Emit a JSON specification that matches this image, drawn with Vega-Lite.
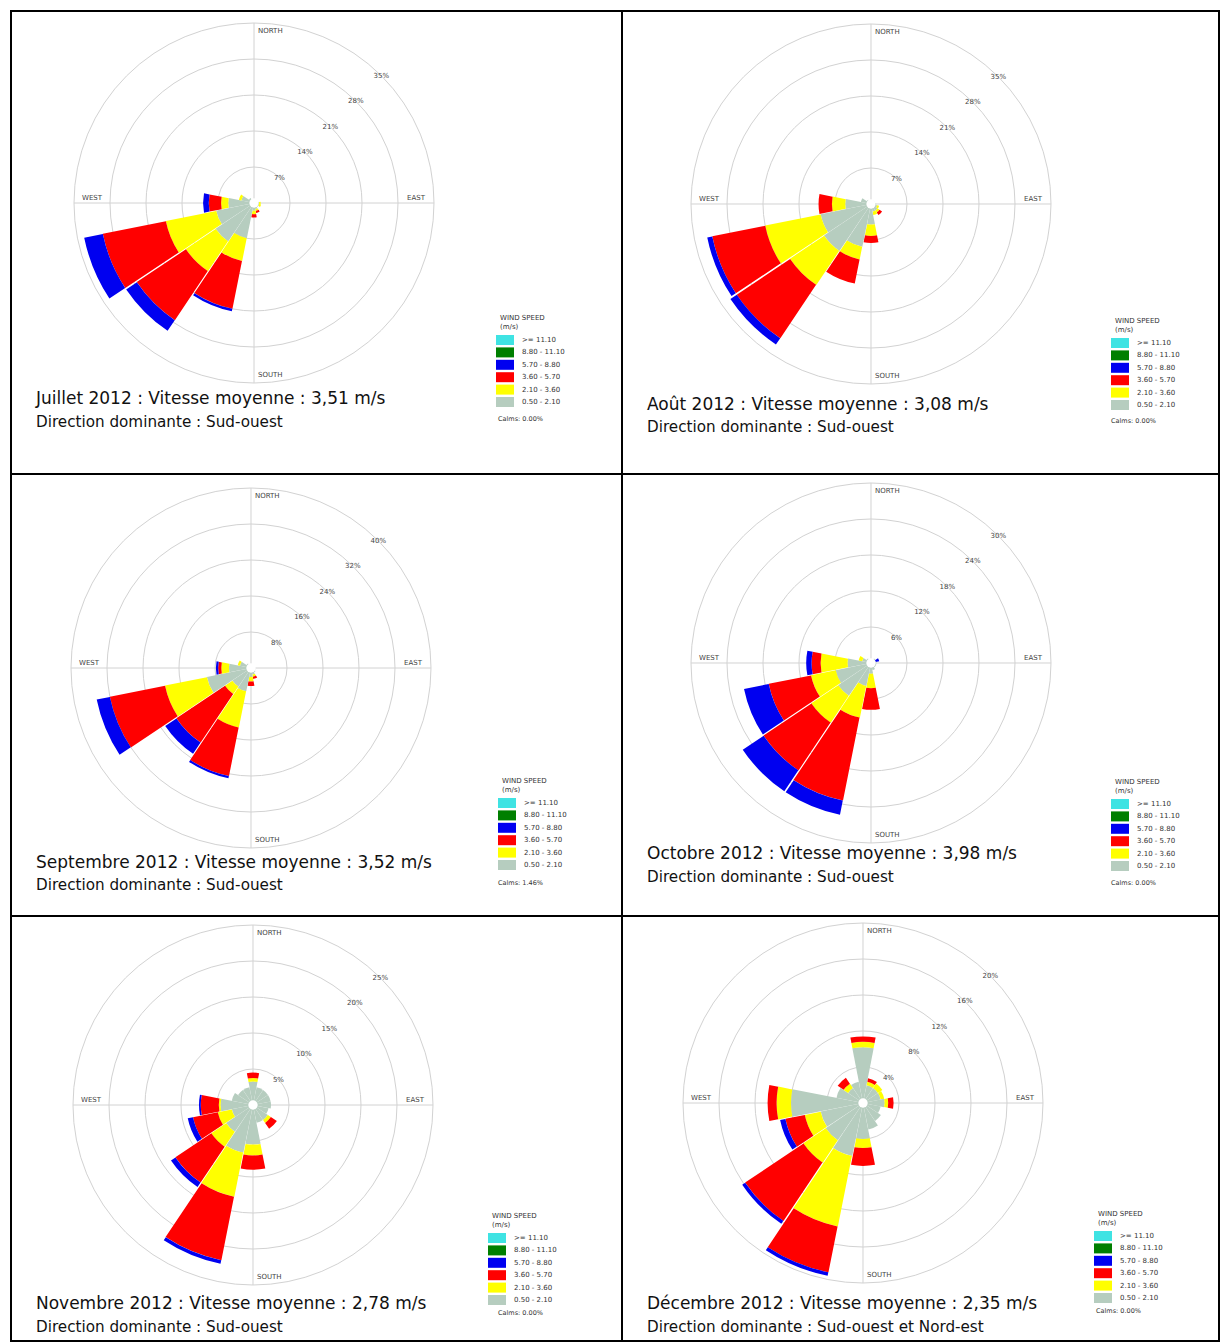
{
"$schema":"https://vega.github.io/schema/vega-lite/v6.json",
"padding":{"left":10,"top":10,"right":0,"bottom":0},
"background":"white",
"config":{"view":{"stroke":"#000","strokeWidth":2},"font":"DejaVu Sans",
 "legend":{"titleFontSize":7,"titleFontWeight":"normal","titleColor":"#333","labelFontSize":7,"labelColor":"#333","symbolType":"M-1.8,-1H1.8V1H-1.8Z","symbolSize":100,"symbolStrokeWidth":0,"rowPadding":2.4,"labelOffset":12,"titlePadding":5,"titleLineHeight":9}},
"columns":2,
"spacing":0,
"bounds":"flush",
"resolve":{"scale":{"color":"independent"}},
"datasets":{
"dl":[{"d":"N","t":"NORTH","k":"v"},{"d":"S","t":"SOUTH","k":"v"},{"d":"W","t":"WEST","k":"h"},{"d":"E","t":"EAST","k":"h"}],
"rings":[
{"m":1,"r":7,"lab":"7%"},{"m":1,"r":14,"lab":"14%"},{"m":1,"r":21,"lab":"21%"},{"m":1,"r":28,"lab":"28%"},{"m":1,"r":35,"lab":"35%"},
{"m":2,"r":7,"lab":"7%"},{"m":2,"r":14,"lab":"14%"},{"m":2,"r":21,"lab":"21%"},{"m":2,"r":28,"lab":"28%"},{"m":2,"r":35,"lab":"35%"},
{"m":3,"r":8,"lab":"8%"},{"m":3,"r":16,"lab":"16%"},{"m":3,"r":24,"lab":"24%"},{"m":3,"r":32,"lab":"32%"},{"m":3,"r":40,"lab":"40%"},
{"m":4,"r":6,"lab":"6%"},{"m":4,"r":12,"lab":"12%"},{"m":4,"r":18,"lab":"18%"},{"m":4,"r":24,"lab":"24%"},{"m":4,"r":30,"lab":"30%"},
{"m":5,"r":5,"lab":"5%"},{"m":5,"r":10,"lab":"10%"},{"m":5,"r":15,"lab":"15%"},{"m":5,"r":20,"lab":"20%"},{"m":5,"r":25,"lab":"25%"},
{"m":6,"r":4,"lab":"4%"},{"m":6,"r":8,"lab":"8%"},{"m":6,"r":12,"lab":"12%"},{"m":6,"r":16,"lab":"16%"},{"m":6,"r":20,"lab":"20%"}],
"txt":[
{"m":1,"main":"Juillet 2012 : Vitesse moyenne : 3,51 m/s","sub":"Direction dominante : Sud-ouest","calm":"Calms: 0.00%"},
{"m":2,"main":"Août 2012 : Vitesse moyenne : 3,08 m/s","sub":"Direction dominante : Sud-ouest","calm":"Calms: 0.00%"},
{"m":3,"main":"Septembre 2012 : Vitesse moyenne : 3,52 m/s","sub":"Direction dominante : Sud-ouest","calm":"Calms: 1.46%"},
{"m":4,"main":"Octobre 2012 : Vitesse moyenne : 3,98 m/s","sub":"Direction dominante : Sud-ouest","calm":"Calms: 0.00%"},
{"m":5,"main":"Novembre 2012 : Vitesse moyenne : 2,78 m/s","sub":"Direction dominante : Sud-ouest","calm":"Calms: 0.00%"},
{"m":6,"main":"Décembre 2012 : Vitesse moyenne : 2,35 m/s","sub":"Direction dominante : Sud-ouest et Nord-est","calm":"Calms: 0.00%"}],
"w":[
{"m":1,"d":"N","ws":"0.50 - 2.10","r0":0,"r1":0.8},
{"m":1,"d":"NNE","ws":"0.50 - 2.10","r0":0,"r1":0.5},
{"m":1,"d":"NE","ws":"0.50 - 2.10","r0":0,"r1":0.5},
{"m":1,"d":"ENE","ws":"0.50 - 2.10","r0":0,"r1":0.6},
{"m":1,"d":"E","ws":"0.50 - 2.10","r0":0,"r1":1.0},
{"m":1,"d":"E","ws":"2.10 - 3.60","r0":1.0,"r1":1.3},
{"m":1,"d":"ESE","ws":"0.50 - 2.10","r0":0,"r1":1.0},
{"m":1,"d":"ESE","ws":"2.10 - 3.60","r0":1.0,"r1":1.4},
{"m":1,"d":"SE","ws":"0.50 - 2.10","r0":0,"r1":1.0},
{"m":1,"d":"SSE","ws":"0.50 - 2.10","r0":0,"r1":1.2},
{"m":1,"d":"SSE","ws":"2.10 - 3.60","r0":1.2,"r1":1.6},
{"m":1,"d":"SSE","ws":"3.60 - 5.70","r0":1.6,"r1":2.0},
{"m":1,"d":"S","ws":"0.50 - 2.10","r0":0,"r1":1.5},
{"m":1,"d":"S","ws":"2.10 - 3.60","r0":1.5,"r1":2.2},
{"m":1,"d":"S","ws":"3.60 - 5.70","r0":2.2,"r1":2.8},
{"m":1,"d":"SSW","ws":"0.50 - 2.10","r0":0,"r1":7},
{"m":1,"d":"SSW","ws":"2.10 - 3.60","r0":7,"r1":11.5},
{"m":1,"d":"SSW","ws":"3.60 - 5.70","r0":11.5,"r1":21},
{"m":1,"d":"SSW","ws":"5.70 - 8.80","r0":21,"r1":21.5},
{"m":1,"d":"SW","ws":"0.50 - 2.10","r0":0,"r1":9},
{"m":1,"d":"SW","ws":"2.10 - 3.60","r0":9,"r1":16},
{"m":1,"d":"SW","ws":"3.60 - 5.70","r0":16,"r1":27.5},
{"m":1,"d":"SW","ws":"5.70 - 8.80","r0":27.5,"r1":30},
{"m":1,"d":"WSW","ws":"0.50 - 2.10","r0":0,"r1":7.5},
{"m":1,"d":"WSW","ws":"2.10 - 3.60","r0":7.5,"r1":17.5},
{"m":1,"d":"WSW","ws":"3.60 - 5.70","r0":17.5,"r1":30},
{"m":1,"d":"WSW","ws":"5.70 - 8.80","r0":30,"r1":33.7},
{"m":1,"d":"W","ws":"0.50 - 2.10","r0":0,"r1":5},
{"m":1,"d":"W","ws":"2.10 - 3.60","r0":5,"r1":6.4},
{"m":1,"d":"W","ws":"3.60 - 5.70","r0":6.4,"r1":8.8},
{"m":1,"d":"W","ws":"5.70 - 8.80","r0":8.8,"r1":9.9},
{"m":1,"d":"WNW","ws":"0.50 - 2.10","r0":0,"r1":2.5},
{"m":1,"d":"WNW","ws":"2.10 - 3.60","r0":2.5,"r1":3},
{"m":1,"d":"NW","ws":"0.50 - 2.10","r0":0,"r1":1.2},
{"m":1,"d":"NNW","ws":"0.50 - 2.10","r0":0,"r1":0.8},

{"m":2,"d":"N","ws":"0.50 - 2.10","r0":0,"r1":0.6},
{"m":2,"d":"NNE","ws":"0.50 - 2.10","r0":0,"r1":0.6},
{"m":2,"d":"NE","ws":"0.50 - 2.10","r0":0,"r1":0.8},
{"m":2,"d":"ENE","ws":"0.50 - 2.10","r0":0,"r1":0.8},
{"m":2,"d":"E","ws":"0.50 - 2.10","r0":0,"r1":1.0},
{"m":2,"d":"ESE","ws":"0.50 - 2.10","r0":0,"r1":1.2},
{"m":2,"d":"ESE","ws":"2.10 - 3.60","r0":1.2,"r1":1.6},
{"m":2,"d":"SE","ws":"0.50 - 2.10","r0":0,"r1":1.5},
{"m":2,"d":"SE","ws":"2.10 - 3.60","r0":1.5,"r1":2.0},
{"m":2,"d":"SE","ws":"3.60 - 5.70","r0":2.0,"r1":2.6},
{"m":2,"d":"SSE","ws":"0.50 - 2.10","r0":0,"r1":1.5},
{"m":2,"d":"SSE","ws":"2.10 - 3.60","r0":1.5,"r1":2.2},
{"m":2,"d":"S","ws":"0.50 - 2.10","r0":0,"r1":4},
{"m":2,"d":"S","ws":"2.10 - 3.60","r0":4,"r1":6.2},
{"m":2,"d":"S","ws":"3.60 - 5.70","r0":6.2,"r1":7.6},
{"m":2,"d":"SSW","ws":"0.50 - 2.10","r0":0,"r1":8.5},
{"m":2,"d":"SSW","ws":"2.10 - 3.60","r0":8.5,"r1":11},
{"m":2,"d":"SSW","ws":"3.60 - 5.70","r0":11,"r1":15.8},
{"m":2,"d":"SW","ws":"0.50 - 2.10","r0":0,"r1":11},
{"m":2,"d":"SW","ws":"2.10 - 3.60","r0":11,"r1":19},
{"m":2,"d":"SW","ws":"3.60 - 5.70","r0":19,"r1":31.5},
{"m":2,"d":"SW","ws":"5.70 - 8.80","r0":31.5,"r1":33},
{"m":2,"d":"WSW","ws":"0.50 - 2.10","r0":0,"r1":10},
{"m":2,"d":"WSW","ws":"2.10 - 3.60","r0":10,"r1":21},
{"m":2,"d":"WSW","ws":"3.60 - 5.70","r0":21,"r1":31.5},
{"m":2,"d":"WSW","ws":"5.70 - 8.80","r0":31.5,"r1":32.5},
{"m":2,"d":"W","ws":"0.50 - 2.10","r0":0,"r1":5},
{"m":2,"d":"W","ws":"2.10 - 3.60","r0":5,"r1":7.6},
{"m":2,"d":"W","ws":"3.60 - 5.70","r0":7.6,"r1":10.2},
{"m":2,"d":"WNW","ws":"0.50 - 2.10","r0":0,"r1":2},
{"m":2,"d":"NW","ws":"0.50 - 2.10","r0":0,"r1":1},
{"m":2,"d":"NNW","ws":"0.50 - 2.10","r0":0,"r1":0.6},

{"m":3,"d":"N","ws":"0.50 - 2.10","r0":0,"r1":0.6},
{"m":3,"d":"NNE","ws":"0.50 - 2.10","r0":0,"r1":0.5},
{"m":3,"d":"NE","ws":"0.50 - 2.10","r0":0,"r1":0.5},
{"m":3,"d":"ENE","ws":"0.50 - 2.10","r0":0,"r1":0.6},
{"m":3,"d":"E","ws":"0.50 - 2.10","r0":0,"r1":0.8},
{"m":3,"d":"ESE","ws":"0.50 - 2.10","r0":0,"r1":1.0},
{"m":3,"d":"SE","ws":"0.50 - 2.10","r0":0,"r1":1.2},
{"m":3,"d":"SSE","ws":"0.50 - 2.10","r0":0,"r1":1.5},
{"m":3,"d":"SSE","ws":"2.10 - 3.60","r0":1.5,"r1":2.0},
{"m":3,"d":"SSE","ws":"3.60 - 5.70","r0":2.0,"r1":2.5},
{"m":3,"d":"S","ws":"0.50 - 2.10","r0":0,"r1":2},
{"m":3,"d":"S","ws":"2.10 - 3.60","r0":2,"r1":3},
{"m":3,"d":"S","ws":"3.60 - 5.70","r0":3,"r1":4},
{"m":3,"d":"SSW","ws":"0.50 - 2.10","r0":0,"r1":5.3},
{"m":3,"d":"SSW","ws":"2.10 - 3.60","r0":5.3,"r1":13.5},
{"m":3,"d":"SSW","ws":"3.60 - 5.70","r0":13.5,"r1":24.5},
{"m":3,"d":"SSW","ws":"5.70 - 8.80","r0":24.5,"r1":25},
{"m":3,"d":"SW","ws":"0.50 - 2.10","r0":0,"r1":5},
{"m":3,"d":"SW","ws":"2.10 - 3.60","r0":5,"r1":7},
{"m":3,"d":"SW","ws":"3.60 - 5.70","r0":7,"r1":20},
{"m":3,"d":"SW","ws":"5.70 - 8.80","r0":20,"r1":23},
{"m":3,"d":"WSW","ws":"0.50 - 2.10","r0":0,"r1":10},
{"m":3,"d":"WSW","ws":"2.10 - 3.60","r0":10,"r1":19.5},
{"m":3,"d":"WSW","ws":"3.60 - 5.70","r0":19.5,"r1":32},
{"m":3,"d":"WSW","ws":"5.70 - 8.80","r0":32,"r1":35},
{"m":3,"d":"W","ws":"0.50 - 2.10","r0":0,"r1":4.9},
{"m":3,"d":"W","ws":"2.10 - 3.60","r0":4.9,"r1":6.6},
{"m":3,"d":"W","ws":"3.60 - 5.70","r0":6.6,"r1":7.3},
{"m":3,"d":"W","ws":"5.70 - 8.80","r0":7.3,"r1":7.8},
{"m":3,"d":"WNW","ws":"0.50 - 2.10","r0":0,"r1":2.5},
{"m":3,"d":"WNW","ws":"2.10 - 3.60","r0":2.5,"r1":3},
{"m":3,"d":"NW","ws":"0.50 - 2.10","r0":0,"r1":1.2},
{"m":3,"d":"NNW","ws":"0.50 - 2.10","r0":0,"r1":0.8},

{"m":4,"d":"N","ws":"0.50 - 2.10","r0":0,"r1":0.6},
{"m":4,"d":"NNE","ws":"0.50 - 2.10","r0":0,"r1":0.6},
{"m":4,"d":"NE","ws":"0.50 - 2.10","r0":0,"r1":0.9},
{"m":4,"d":"ENE","ws":"0.50 - 2.10","r0":0,"r1":0.8},
{"m":4,"d":"ENE","ws":"5.70 - 8.80","r0":0.8,"r1":1.4},
{"m":4,"d":"E","ws":"0.50 - 2.10","r0":0,"r1":0.9},
{"m":4,"d":"ESE","ws":"0.50 - 2.10","r0":0,"r1":0.9},
{"m":4,"d":"SE","ws":"0.50 - 2.10","r0":0,"r1":0.9},
{"m":4,"d":"SSE","ws":"0.50 - 2.10","r0":0,"r1":1.2},
{"m":4,"d":"S","ws":"0.50 - 2.10","r0":0,"r1":1.8},
{"m":4,"d":"S","ws":"2.10 - 3.60","r0":1.8,"r1":4.2},
{"m":4,"d":"S","ws":"3.60 - 5.70","r0":4.2,"r1":7.8},
{"m":4,"d":"SSW","ws":"0.50 - 2.10","r0":0,"r1":3.9},
{"m":4,"d":"SSW","ws":"2.10 - 3.60","r0":3.9,"r1":9.3},
{"m":4,"d":"SSW","ws":"3.60 - 5.70","r0":9.3,"r1":23.4},
{"m":4,"d":"SSW","ws":"5.70 - 8.80","r0":23.4,"r1":25.8},
{"m":4,"d":"SW","ws":"0.50 - 2.10","r0":0,"r1":6.6},
{"m":4,"d":"SW","ws":"2.10 - 3.60","r0":6.6,"r1":12},
{"m":4,"d":"SW","ws":"3.60 - 5.70","r0":12,"r1":21.6},
{"m":4,"d":"SW","ws":"5.70 - 8.80","r0":21.6,"r1":25.8},
{"m":4,"d":"WSW","ws":"0.50 - 2.10","r0":0,"r1":6},
{"m":4,"d":"WSW","ws":"2.10 - 3.60","r0":6,"r1":10.2},
{"m":4,"d":"WSW","ws":"3.60 - 5.70","r0":10.2,"r1":17.4},
{"m":4,"d":"WSW","ws":"5.70 - 8.80","r0":17.4,"r1":21.6},
{"m":4,"d":"W","ws":"0.50 - 2.10","r0":0,"r1":3.9},
{"m":4,"d":"W","ws":"2.10 - 3.60","r0":3.9,"r1":8.4},
{"m":4,"d":"W","ws":"3.60 - 5.70","r0":8.4,"r1":9.9},
{"m":4,"d":"W","ws":"5.70 - 8.80","r0":9.9,"r1":10.8},
{"m":4,"d":"WNW","ws":"0.50 - 2.10","r0":0,"r1":1.5},
{"m":4,"d":"WNW","ws":"2.10 - 3.60","r0":1.5,"r1":2.1},
{"m":4,"d":"NW","ws":"0.50 - 2.10","r0":0,"r1":0.9},
{"m":4,"d":"NNW","ws":"0.50 - 2.10","r0":0,"r1":0.6},

{"m":5,"d":"N","ws":"0.50 - 2.10","r0":0,"r1":3.25},
{"m":5,"d":"N","ws":"2.10 - 3.60","r0":3.25,"r1":3.75},
{"m":5,"d":"N","ws":"3.60 - 5.70","r0":3.75,"r1":4.5},
{"m":5,"d":"NNE","ws":"0.50 - 2.10","r0":0,"r1":2.5},
{"m":5,"d":"NE","ws":"0.50 - 2.10","r0":0,"r1":2.5},
{"m":5,"d":"ENE","ws":"0.50 - 2.10","r0":0,"r1":2.5},
{"m":5,"d":"E","ws":"0.50 - 2.10","r0":0,"r1":2.5},
{"m":5,"d":"ESE","ws":"0.50 - 2.10","r0":0,"r1":2.2},
{"m":5,"d":"SE","ws":"0.50 - 2.10","r0":0,"r1":2.5},
{"m":5,"d":"SE","ws":"2.10 - 3.60","r0":2.5,"r1":3},
{"m":5,"d":"SE","ws":"3.60 - 5.70","r0":3,"r1":4},
{"m":5,"d":"SSE","ws":"0.50 - 2.10","r0":0,"r1":2.5},
{"m":5,"d":"S","ws":"0.50 - 2.10","r0":0,"r1":5.5},
{"m":5,"d":"S","ws":"2.10 - 3.60","r0":5.5,"r1":7},
{"m":5,"d":"S","ws":"3.60 - 5.70","r0":7,"r1":9},
{"m":5,"d":"SSW","ws":"0.50 - 2.10","r0":0,"r1":6.75},
{"m":5,"d":"SSW","ws":"2.10 - 3.60","r0":6.75,"r1":13},
{"m":5,"d":"SSW","ws":"3.60 - 5.70","r0":13,"r1":22},
{"m":5,"d":"SSW","ws":"5.70 - 8.80","r0":22,"r1":22.5},
{"m":5,"d":"SW","ws":"0.50 - 2.10","r0":0,"r1":4.5},
{"m":5,"d":"SW","ws":"2.10 - 3.60","r0":4.5,"r1":7},
{"m":5,"d":"SW","ws":"3.60 - 5.70","r0":7,"r1":13},
{"m":5,"d":"SW","ws":"5.70 - 8.80","r0":13,"r1":13.75},
{"m":5,"d":"WSW","ws":"0.50 - 2.10","r0":0,"r1":3},
{"m":5,"d":"WSW","ws":"2.10 - 3.60","r0":3,"r1":5},
{"m":5,"d":"WSW","ws":"3.60 - 5.70","r0":5,"r1":8.5},
{"m":5,"d":"WSW","ws":"5.70 - 8.80","r0":8.5,"r1":9.25},
{"m":5,"d":"W","ws":"0.50 - 2.10","r0":0,"r1":4.5},
{"m":5,"d":"W","ws":"2.10 - 3.60","r0":4.5,"r1":4.75},
{"m":5,"d":"W","ws":"3.60 - 5.70","r0":4.75,"r1":7.25},
{"m":5,"d":"W","ws":"5.70 - 8.80","r0":7.25,"r1":7.5},
{"m":5,"d":"WNW","ws":"0.50 - 2.10","r0":0,"r1":3},
{"m":5,"d":"NW","ws":"0.50 - 2.10","r0":0,"r1":2.5},
{"m":5,"d":"NNW","ws":"0.50 - 2.10","r0":0,"r1":2.5},

{"m":6,"d":"N","ws":"0.50 - 2.10","r0":0,"r1":6.2},
{"m":6,"d":"N","ws":"2.10 - 3.60","r0":6.2,"r1":6.8},
{"m":6,"d":"N","ws":"3.60 - 5.70","r0":6.8,"r1":7.4},
{"m":6,"d":"NNE","ws":"0.50 - 2.10","r0":0,"r1":2},
{"m":6,"d":"NNE","ws":"2.10 - 3.60","r0":2,"r1":2.4},
{"m":6,"d":"NNE","ws":"3.60 - 5.70","r0":2.4,"r1":2.8},
{"m":6,"d":"NE","ws":"0.50 - 2.10","r0":0,"r1":2},
{"m":6,"d":"NE","ws":"2.10 - 3.60","r0":2,"r1":2.6},
{"m":6,"d":"ENE","ws":"0.50 - 2.10","r0":0,"r1":2},
{"m":6,"d":"ENE","ws":"2.10 - 3.60","r0":2,"r1":2.4},
{"m":6,"d":"E","ws":"0.50 - 2.10","r0":0,"r1":2.4},
{"m":6,"d":"E","ws":"2.10 - 3.60","r0":2.4,"r1":2.8},
{"m":6,"d":"E","ws":"3.60 - 5.70","r0":2.8,"r1":3.4},
{"m":6,"d":"ESE","ws":"0.50 - 2.10","r0":0,"r1":2},
{"m":6,"d":"SE","ws":"0.50 - 2.10","r0":0,"r1":2.4},
{"m":6,"d":"SSE","ws":"0.50 - 2.10","r0":0,"r1":3},
{"m":6,"d":"S","ws":"0.50 - 2.10","r0":0,"r1":4},
{"m":6,"d":"S","ws":"2.10 - 3.60","r0":4,"r1":5},
{"m":6,"d":"S","ws":"3.60 - 5.70","r0":5,"r1":7},
{"m":6,"d":"SSW","ws":"0.50 - 2.10","r0":0,"r1":6},
{"m":6,"d":"SSW","ws":"2.10 - 3.60","r0":6,"r1":14},
{"m":6,"d":"SSW","ws":"3.60 - 5.70","r0":14,"r1":19.2},
{"m":6,"d":"SSW","ws":"5.70 - 8.80","r0":19.2,"r1":19.6},
{"m":6,"d":"SW","ws":"0.50 - 2.10","r0":0,"r1":5},
{"m":6,"d":"SW","ws":"2.10 - 3.60","r0":5,"r1":8},
{"m":6,"d":"SW","ws":"3.60 - 5.70","r0":8,"r1":15.8},
{"m":6,"d":"SW","ws":"5.70 - 8.80","r0":15.8,"r1":16.2},
{"m":6,"d":"WSW","ws":"0.50 - 2.10","r0":0,"r1":4.8},
{"m":6,"d":"WSW","ws":"2.10 - 3.60","r0":4.8,"r1":6.6},
{"m":6,"d":"WSW","ws":"3.60 - 5.70","r0":6.6,"r1":8.8},
{"m":6,"d":"WSW","ws":"5.70 - 8.80","r0":8.8,"r1":9.4},
{"m":6,"d":"W","ws":"0.50 - 2.10","r0":0,"r1":8},
{"m":6,"d":"W","ws":"2.10 - 3.60","r0":8,"r1":9.6},
{"m":6,"d":"W","ws":"3.60 - 5.70","r0":9.6,"r1":10.6},
{"m":6,"d":"WNW","ws":"0.50 - 2.10","r0":0,"r1":3},
{"m":6,"d":"NW","ws":"0.50 - 2.10","r0":0,"r1":2},
{"m":6,"d":"NW","ws":"2.10 - 3.60","r0":2,"r1":2.6},
{"m":6,"d":"NW","ws":"3.60 - 5.70","r0":2.6,"r1":3.4},
{"m":6,"d":"NNW","ws":"0.50 - 2.10","r0":0,"r1":2.4}
]},
"concat":[
{"width":611,"height":463,
 "encoding":{"x":{"datum":0,"type":"quantitative","scale":{"domain":[-1.35,2.0444],"nice":false,"zero":false},"axis":null},
             "y":{"datum":0,"type":"quantitative","scale":{"domain":[-1.5056,1.0667],"nice":false,"zero":false},"axis":null}},
 "layer":[
  {"data":{"name":"rings"},"transform":[{"filter":"datum.m==1"}],"mark":{"type":"arc","theta":0,"theta2":6.2832,"fill":null,"stroke":"#d2d2d2","strokeWidth":1},
   "encoding":{"radius":{"field":"r","type":"quantitative","stack":null,"scale":{"type":"linear","domain":[0,35],"range":[0,180],"zero":true,"nice":false}}}},
  {"data":{"values":[{"o":0}]},"mark":{"type":"rule","stroke":"#d2d2d2","strokeWidth":1},"encoding":{"y":{"datum":-1},"y2":{"datum":1}}},
  {"data":{"values":[{"o":0}]},"mark":{"type":"rule","stroke":"#d2d2d2","strokeWidth":1},"encoding":{"x":{"datum":-1},"x2":{"datum":1}}},
  {"data":{"name":"w"},"transform":[{"filter":"datum.m==1"}],"mark":{"type":"arc","padAngle":0.008},
   "encoding":{"theta":{"field":"d","type":"nominal","scale":{"type":"band","domain":["N","NNE","NE","ENE","E","ESE","SE","SSE","S","SSW","SW","WSW","W","WNW","NW","NNW"],"range":[-0.19635,6.08684],"paddingInner":0,"paddingOuter":0}},
     "radius":{"field":"r1","type":"quantitative","stack":null,"scale":{"type":"linear","domain":[0,35],"range":[0,180],"zero":true,"nice":false}},
     "radius2":{"field":"r0"},
     "color":{"field":"ws","type":"nominal","scale":{"domain":[">= 11.10","8.80 - 11.10","5.70 - 8.80","3.60 - 5.70","2.10 - 3.60","0.50 - 2.10"],"range":["#3fe3e3","#007f00","#0000f0","#ff0000","#ffff00","#b6cdbf"]},
       "legend":{"orient":"none","legendX":489,"legendY":303,"title":["WIND SPEED","(m/s)"]}}}},
  {"data":{"values":[{"o":0}]},"mark":{"type":"arc","theta":0,"theta2":6.2832,"fill":"#ffffff"},"encoding":{"radius":{"datum":0.9,"stack":null}}},
  {"data":{"name":"rings"},"transform":[{"filter":"datum.m==1"}],"mark":{"type":"text","fontSize":7,"fill":"#444"},"encoding":{"theta":{"value":0.7854},"radius":{"field":"r","type":"quantitative","stack":null},"text":{"field":"lab"}}},
  {"data":{"name":"dl"},"transform":[{"filter":"datum.k=='v'"}],"mark":{"type":"text","align":"left","dx":4,"fontSize":7,"fill":"#444"},"encoding":{"theta":{"field":"d","type":"nominal","bandPosition":0.5},"radius":{"datum":33.4},"text":{"field":"t"}}},
  {"data":{"name":"dl"},"transform":[{"filter":"datum.k=='h'"}],"mark":{"type":"text","dy":-5,"fontSize":7,"fill":"#444"},"encoding":{"theta":{"field":"d","type":"nominal","bandPosition":0.5},"radius":{"datum":31.5},"text":{"field":"t"}}},
  {"data":{"name":"txt"},"transform":[{"filter":"datum.m==1"}],"mark":{"type":"text","align":"left","fontSize":17,"fill":"#111"},"encoding":{"x":{"datum":-1.2111},"y":{"datum":-1.0889},"text":{"field":"main"}}},
  {"data":{"name":"txt"},"transform":[{"filter":"datum.m==1"}],"mark":{"type":"text","align":"left","fontSize":15.2,"fill":"#111"},"encoding":{"x":{"datum":-1.2111},"y":{"datum":-1.2167},"text":{"field":"sub"}}},
  {"data":{"name":"txt"},"transform":[{"filter":"datum.m==1"}],"mark":{"type":"text","align":"left","fontSize":6.5,"fill":"#333"},"encoding":{"x":{"datum":1.3556},"y":{"datum":-1.2},"text":{"field":"calm"}}}
 ]},
{"width":597,"height":463,
 "encoding":{"x":{"datum":0,"type":"quantitative","scale":{"domain":[-1.3833,1.9333],"nice":false,"zero":false},"axis":null},
             "y":{"datum":0,"type":"quantitative","scale":{"domain":[-1.5,1.0722],"nice":false,"zero":false},"axis":null}},
 "layer":[
  {"data":{"name":"rings"},"transform":[{"filter":"datum.m==2"}],"mark":{"type":"arc","theta":0,"theta2":6.2832,"fill":null,"stroke":"#d2d2d2","strokeWidth":1},
   "encoding":{"radius":{"field":"r","type":"quantitative","stack":null,"scale":{"type":"linear","domain":[0,35],"range":[0,180],"zero":true,"nice":false}}}},
  {"data":{"values":[{"o":0}]},"mark":{"type":"rule","stroke":"#d2d2d2","strokeWidth":1},"encoding":{"y":{"datum":-1},"y2":{"datum":1}}},
  {"data":{"values":[{"o":0}]},"mark":{"type":"rule","stroke":"#d2d2d2","strokeWidth":1},"encoding":{"x":{"datum":-1},"x2":{"datum":1}}},
  {"data":{"name":"w"},"transform":[{"filter":"datum.m==2"}],"mark":{"type":"arc","padAngle":0.008},
   "encoding":{"theta":{"field":"d","type":"nominal","scale":{"type":"band","domain":["N","NNE","NE","ENE","E","ESE","SE","SSE","S","SSW","SW","WSW","W","WNW","NW","NNW"],"range":[-0.19635,6.08684],"paddingInner":0,"paddingOuter":0}},
     "radius":{"field":"r1","type":"quantitative","stack":null,"scale":{"type":"linear","domain":[0,35],"range":[0,180],"zero":true,"nice":false}},
     "radius2":{"field":"r0"},
     "color":{"field":"ws","type":"nominal","scale":{"domain":[">= 11.10","8.80 - 11.10","5.70 - 8.80","3.60 - 5.70","2.10 - 3.60","0.50 - 2.10"],"range":["#3fe3e3","#007f00","#0000f0","#ff0000","#ffff00","#b6cdbf"]},
       "legend":{"orient":"none","legendX":493,"legendY":306,"title":["WIND SPEED","(m/s)"]}}}},
  {"data":{"values":[{"o":0}]},"mark":{"type":"arc","theta":0,"theta2":6.2832,"fill":"#ffffff"},"encoding":{"radius":{"datum":0.9,"stack":null}}},
  {"data":{"name":"rings"},"transform":[{"filter":"datum.m==2"}],"mark":{"type":"text","fontSize":7,"fill":"#444"},"encoding":{"theta":{"value":0.7854},"radius":{"field":"r","type":"quantitative","stack":null},"text":{"field":"lab"}}},
  {"data":{"name":"dl"},"transform":[{"filter":"datum.k=='v'"}],"mark":{"type":"text","align":"left","dx":4,"fontSize":7,"fill":"#444"},"encoding":{"theta":{"field":"d","type":"nominal","bandPosition":0.5},"radius":{"datum":33.4},"text":{"field":"t"}}},
  {"data":{"name":"dl"},"transform":[{"filter":"datum.k=='h'"}],"mark":{"type":"text","dy":-5,"fontSize":7,"fill":"#444"},"encoding":{"theta":{"field":"d","type":"nominal","bandPosition":0.5},"radius":{"datum":31.5},"text":{"field":"t"}}},
  {"data":{"name":"txt"},"transform":[{"filter":"datum.m==2"}],"mark":{"type":"text","align":"left","fontSize":17,"fill":"#111"},"encoding":{"x":{"datum":-1.2444},"y":{"datum":-1.1167},"text":{"field":"main"}}},
  {"data":{"name":"txt"},"transform":[{"filter":"datum.m==2"}],"mark":{"type":"text","align":"left","fontSize":15.2,"fill":"#111"},"encoding":{"x":{"datum":-1.2444},"y":{"datum":-1.2389},"text":{"field":"sub"}}},
  {"data":{"name":"txt"},"transform":[{"filter":"datum.m==2"}],"mark":{"type":"text","align":"left","fontSize":6.5,"fill":"#333"},"encoding":{"x":{"datum":1.3333},"y":{"datum":-1.2056},"text":{"field":"calm"}}}
 ]},
{"width":611,"height":442,
 "encoding":{"x":{"datum":0,"type":"quantitative","scale":{"domain":[-1.3333,2.0611],"nice":false,"zero":false},"axis":null},
             "y":{"datum":0,"type":"quantitative","scale":{"domain":[-1.3778,1.0778],"nice":false,"zero":false},"axis":null}},
 "layer":[
  {"data":{"name":"rings"},"transform":[{"filter":"datum.m==3"}],"mark":{"type":"arc","theta":0,"theta2":6.2832,"fill":null,"stroke":"#d2d2d2","strokeWidth":1},
   "encoding":{"radius":{"field":"r","type":"quantitative","stack":null,"scale":{"type":"linear","domain":[0,40],"range":[0,180],"zero":true,"nice":false}}}},
  {"data":{"values":[{"o":0}]},"mark":{"type":"rule","stroke":"#d2d2d2","strokeWidth":1},"encoding":{"y":{"datum":-1},"y2":{"datum":1}}},
  {"data":{"values":[{"o":0}]},"mark":{"type":"rule","stroke":"#d2d2d2","strokeWidth":1},"encoding":{"x":{"datum":-1},"x2":{"datum":1}}},
  {"data":{"name":"w"},"transform":[{"filter":"datum.m==3"}],"mark":{"type":"arc","padAngle":0.008},
   "encoding":{"theta":{"field":"d","type":"nominal","scale":{"type":"band","domain":["N","NNE","NE","ENE","E","ESE","SE","SSE","S","SSW","SW","WSW","W","WNW","NW","NNW"],"range":[-0.19635,6.08684],"paddingInner":0,"paddingOuter":0}},
     "radius":{"field":"r1","type":"quantitative","stack":null,"scale":{"type":"linear","domain":[0,40],"range":[0,180],"zero":true,"nice":false}},
     "radius2":{"field":"r0"},
     "color":{"field":"ws","type":"nominal","scale":{"domain":[">= 11.10","8.80 - 11.10","5.70 - 8.80","3.60 - 5.70","2.10 - 3.60","0.50 - 2.10"],"range":["#3fe3e3","#007f00","#0000f0","#ff0000","#ffff00","#b6cdbf"]},
       "legend":{"orient":"none","legendX":491,"legendY":303,"title":["WIND SPEED","(m/s)"]}}}},
  {"data":{"values":[{"o":0}]},"mark":{"type":"arc","theta":0,"theta2":6.2832,"fill":"#ffffff"},"encoding":{"radius":{"datum":1.04,"stack":null}}},
  {"data":{"name":"rings"},"transform":[{"filter":"datum.m==3"}],"mark":{"type":"text","fontSize":7,"fill":"#444"},"encoding":{"theta":{"value":0.7854},"radius":{"field":"r","type":"quantitative","stack":null},"text":{"field":"lab"}}},
  {"data":{"name":"dl"},"transform":[{"filter":"datum.k=='v'"}],"mark":{"type":"text","align":"left","dx":4,"fontSize":7,"fill":"#444"},"encoding":{"theta":{"field":"d","type":"nominal","bandPosition":0.5},"radius":{"datum":38.2},"text":{"field":"t"}}},
  {"data":{"name":"dl"},"transform":[{"filter":"datum.k=='h'"}],"mark":{"type":"text","dy":-5,"fontSize":7,"fill":"#444"},"encoding":{"theta":{"field":"d","type":"nominal","bandPosition":0.5},"radius":{"datum":36},"text":{"field":"t"}}},
  {"data":{"name":"txt"},"transform":[{"filter":"datum.m==3"}],"mark":{"type":"text","align":"left","fontSize":17,"fill":"#111"},"encoding":{"x":{"datum":-1.1944},"y":{"datum":-1.0833},"text":{"field":"main"}}},
  {"data":{"name":"txt"},"transform":[{"filter":"datum.m==3"}],"mark":{"type":"text","align":"left","fontSize":15.2,"fill":"#111"},"encoding":{"x":{"datum":-1.1944},"y":{"datum":-1.2056},"text":{"field":"sub"}}},
  {"data":{"name":"txt"},"transform":[{"filter":"datum.m==3"}],"mark":{"type":"text","align":"left","fontSize":6.5,"fill":"#333"},"encoding":{"x":{"datum":1.3722},"y":{"datum":-1.1944},"text":{"field":"calm"}}}
 ]},
{"width":597,"height":442,
 "encoding":{"x":{"datum":0,"type":"quantitative","scale":{"domain":[-1.3833,1.9333],"nice":false,"zero":false},"axis":null},
             "y":{"datum":0,"type":"quantitative","scale":{"domain":[-1.4056,1.05],"nice":false,"zero":false},"axis":null}},
 "layer":[
  {"data":{"name":"rings"},"transform":[{"filter":"datum.m==4"}],"mark":{"type":"arc","theta":0,"theta2":6.2832,"fill":null,"stroke":"#d2d2d2","strokeWidth":1},
   "encoding":{"radius":{"field":"r","type":"quantitative","stack":null,"scale":{"type":"linear","domain":[0,30],"range":[0,180],"zero":true,"nice":false}}}},
  {"data":{"values":[{"o":0}]},"mark":{"type":"rule","stroke":"#d2d2d2","strokeWidth":1},"encoding":{"y":{"datum":-1},"y2":{"datum":1}}},
  {"data":{"values":[{"o":0}]},"mark":{"type":"rule","stroke":"#d2d2d2","strokeWidth":1},"encoding":{"x":{"datum":-1},"x2":{"datum":1}}},
  {"data":{"name":"w"},"transform":[{"filter":"datum.m==4"}],"mark":{"type":"arc","padAngle":0.008},
   "encoding":{"theta":{"field":"d","type":"nominal","scale":{"type":"band","domain":["N","NNE","NE","ENE","E","ESE","SE","SSE","S","SSW","SW","WSW","W","WNW","NW","NNW"],"range":[-0.19635,6.08684],"paddingInner":0,"paddingOuter":0}},
     "radius":{"field":"r1","type":"quantitative","stack":null,"scale":{"type":"linear","domain":[0,30],"range":[0,180],"zero":true,"nice":false}},
     "radius2":{"field":"r0"},
     "color":{"field":"ws","type":"nominal","scale":{"domain":[">= 11.10","8.80 - 11.10","5.70 - 8.80","3.60 - 5.70","2.10 - 3.60","0.50 - 2.10"],"range":["#3fe3e3","#007f00","#0000f0","#ff0000","#ffff00","#b6cdbf"]},
       "legend":{"orient":"none","legendX":493,"legendY":304,"title":["WIND SPEED","(m/s)"]}}}},
  {"data":{"values":[{"o":0}]},"mark":{"type":"arc","theta":0,"theta2":6.2832,"fill":"#ffffff"},"encoding":{"radius":{"datum":0.78,"stack":null}}},
  {"data":{"name":"rings"},"transform":[{"filter":"datum.m==4"}],"mark":{"type":"text","fontSize":7,"fill":"#444"},"encoding":{"theta":{"value":0.7854},"radius":{"field":"r","type":"quantitative","stack":null},"text":{"field":"lab"}}},
  {"data":{"name":"dl"},"transform":[{"filter":"datum.k=='v'"}],"mark":{"type":"text","align":"left","dx":4,"fontSize":7,"fill":"#444"},"encoding":{"theta":{"field":"d","type":"nominal","bandPosition":0.5},"radius":{"datum":28.6},"text":{"field":"t"}}},
  {"data":{"name":"dl"},"transform":[{"filter":"datum.k=='h'"}],"mark":{"type":"text","dy":-5,"fontSize":7,"fill":"#444"},"encoding":{"theta":{"field":"d","type":"nominal","bandPosition":0.5},"radius":{"datum":27},"text":{"field":"t"}}},
  {"data":{"name":"txt"},"transform":[{"filter":"datum.m==4"}],"mark":{"type":"text","align":"left","fontSize":17,"fill":"#111"},"encoding":{"x":{"datum":-1.2444},"y":{"datum":-1.0611},"text":{"field":"main"}}},
  {"data":{"name":"txt"},"transform":[{"filter":"datum.m==4"}],"mark":{"type":"text","align":"left","fontSize":15.2,"fill":"#111"},"encoding":{"x":{"datum":-1.2444},"y":{"datum":-1.1889},"text":{"field":"sub"}}},
  {"data":{"name":"txt"},"transform":[{"filter":"datum.m==4"}],"mark":{"type":"text","align":"left","fontSize":6.5,"fill":"#333"},"encoding":{"x":{"datum":1.3333},"y":{"datum":-1.2222},"text":{"field":"calm"}}}
 ]},
{"width":611,"height":425,
 "encoding":{"x":{"datum":0,"type":"quantitative","scale":{"domain":[-1.3444,2.05],"nice":false,"zero":false},"axis":null},
             "y":{"datum":0,"type":"quantitative","scale":{"domain":[-1.3111,1.05],"nice":false,"zero":false},"axis":null}},
 "layer":[
  {"data":{"name":"rings"},"transform":[{"filter":"datum.m==5"}],"mark":{"type":"arc","theta":0,"theta2":6.2832,"fill":null,"stroke":"#d2d2d2","strokeWidth":1},
   "encoding":{"radius":{"field":"r","type":"quantitative","stack":null,"scale":{"type":"linear","domain":[0,25],"range":[0,180],"zero":true,"nice":false}}}},
  {"data":{"values":[{"o":0}]},"mark":{"type":"rule","stroke":"#d2d2d2","strokeWidth":1},"encoding":{"y":{"datum":-1},"y2":{"datum":1}}},
  {"data":{"values":[{"o":0}]},"mark":{"type":"rule","stroke":"#d2d2d2","strokeWidth":1},"encoding":{"x":{"datum":-1},"x2":{"datum":1}}},
  {"data":{"name":"w"},"transform":[{"filter":"datum.m==5"}],"mark":{"type":"arc","padAngle":0.008},
   "encoding":{"theta":{"field":"d","type":"nominal","scale":{"type":"band","domain":["N","NNE","NE","ENE","E","ESE","SE","SSE","S","SSW","SW","WSW","W","WNW","NW","NNW"],"range":[-0.19635,6.08684],"paddingInner":0,"paddingOuter":0}},
     "radius":{"field":"r1","type":"quantitative","stack":null,"scale":{"type":"linear","domain":[0,25],"range":[0,180],"zero":true,"nice":false}},
     "radius2":{"field":"r0"},
     "color":{"field":"ws","type":"nominal","scale":{"domain":[">= 11.10","8.80 - 11.10","5.70 - 8.80","3.60 - 5.70","2.10 - 3.60","0.50 - 2.10"],"range":["#3fe3e3","#007f00","#0000f0","#ff0000","#ffff00","#b6cdbf"]},
       "legend":{"orient":"none","legendX":481,"legendY":296,"title":["WIND SPEED","(m/s)"]}}}},
  {"data":{"values":[{"o":0}]},"mark":{"type":"arc","theta":0,"theta2":6.2832,"fill":"#ffffff"},"encoding":{"radius":{"datum":0.65,"stack":null}}},
  {"data":{"name":"rings"},"transform":[{"filter":"datum.m==5"}],"mark":{"type":"text","fontSize":7,"fill":"#444"},"encoding":{"theta":{"value":0.7854},"radius":{"field":"r","type":"quantitative","stack":null},"text":{"field":"lab"}}},
  {"data":{"name":"dl"},"transform":[{"filter":"datum.k=='v'"}],"mark":{"type":"text","align":"left","dx":4,"fontSize":7,"fill":"#444"},"encoding":{"theta":{"field":"d","type":"nominal","bandPosition":0.5},"radius":{"datum":23.9},"text":{"field":"t"}}},
  {"data":{"name":"dl"},"transform":[{"filter":"datum.k=='h'"}],"mark":{"type":"text","dy":-5,"fontSize":7,"fill":"#444"},"encoding":{"theta":{"field":"d","type":"nominal","bandPosition":0.5},"radius":{"datum":22.5},"text":{"field":"t"}}},
  {"data":{"name":"txt"},"transform":[{"filter":"datum.m==5"}],"mark":{"type":"text","align":"left","fontSize":17,"fill":"#111"},"encoding":{"x":{"datum":-1.2056},"y":{"datum":-1.1056},"text":{"field":"main"}}},
  {"data":{"name":"txt"},"transform":[{"filter":"datum.m==5"}],"mark":{"type":"text","align":"left","fontSize":15.2,"fill":"#111"},"encoding":{"x":{"datum":-1.2056},"y":{"datum":-1.2333},"text":{"field":"sub"}}},
  {"data":{"name":"txt"},"transform":[{"filter":"datum.m==5"}],"mark":{"type":"text","align":"left","fontSize":6.5,"fill":"#333"},"encoding":{"x":{"datum":1.3611},"y":{"datum":-1.1556},"text":{"field":"calm"}}}
 ]},
{"width":597,"height":425,
 "encoding":{"x":{"datum":0,"type":"quantitative","scale":{"domain":[-1.3389,1.9778],"nice":false,"zero":false},"axis":null},
             "y":{"datum":0,"type":"quantitative","scale":{"domain":[-1.3222,1.0389],"nice":false,"zero":false},"axis":null}},
 "layer":[
  {"data":{"name":"rings"},"transform":[{"filter":"datum.m==6"}],"mark":{"type":"arc","theta":0,"theta2":6.2832,"fill":null,"stroke":"#d2d2d2","strokeWidth":1},
   "encoding":{"radius":{"field":"r","type":"quantitative","stack":null,"scale":{"type":"linear","domain":[0,20],"range":[0,180],"zero":true,"nice":false}}}},
  {"data":{"values":[{"o":0}]},"mark":{"type":"rule","stroke":"#d2d2d2","strokeWidth":1},"encoding":{"y":{"datum":-1},"y2":{"datum":1}}},
  {"data":{"values":[{"o":0}]},"mark":{"type":"rule","stroke":"#d2d2d2","strokeWidth":1},"encoding":{"x":{"datum":-1},"x2":{"datum":1}}},
  {"data":{"name":"w"},"transform":[{"filter":"datum.m==6"}],"mark":{"type":"arc","padAngle":0.008},
   "encoding":{"theta":{"field":"d","type":"nominal","scale":{"type":"band","domain":["N","NNE","NE","ENE","E","ESE","SE","SSE","S","SSW","SW","WSW","W","WNW","NW","NNW"],"range":[-0.19635,6.08684],"paddingInner":0,"paddingOuter":0}},
     "radius":{"field":"r1","type":"quantitative","stack":null,"scale":{"type":"linear","domain":[0,20],"range":[0,180],"zero":true,"nice":false}},
     "radius2":{"field":"r0"},
     "color":{"field":"ws","type":"nominal","scale":{"domain":[">= 11.10","8.80 - 11.10","5.70 - 8.80","3.60 - 5.70","2.10 - 3.60","0.50 - 2.10"],"range":["#3fe3e3","#007f00","#0000f0","#ff0000","#ffff00","#b6cdbf"]},
       "legend":{"orient":"none","legendX":476,"legendY":294,"title":["WIND SPEED","(m/s)"]}}}},
  {"data":{"values":[{"o":0}]},"mark":{"type":"arc","theta":0,"theta2":6.2832,"fill":"#ffffff"},"encoding":{"radius":{"datum":0.52,"stack":null}}},
  {"data":{"name":"rings"},"transform":[{"filter":"datum.m==6"}],"mark":{"type":"text","fontSize":7,"fill":"#444"},"encoding":{"theta":{"value":0.7854},"radius":{"field":"r","type":"quantitative","stack":null},"text":{"field":"lab"}}},
  {"data":{"name":"dl"},"transform":[{"filter":"datum.k=='v'"}],"mark":{"type":"text","align":"left","dx":4,"fontSize":7,"fill":"#444"},"encoding":{"theta":{"field":"d","type":"nominal","bandPosition":0.5},"radius":{"datum":19.1},"text":{"field":"t"}}},
  {"data":{"name":"dl"},"transform":[{"filter":"datum.k=='h'"}],"mark":{"type":"text","dy":-5,"fontSize":7,"fill":"#444"},"encoding":{"theta":{"field":"d","type":"nominal","bandPosition":0.5},"radius":{"datum":18},"text":{"field":"t"}}},
  {"data":{"name":"txt"},"transform":[{"filter":"datum.m==6"}],"mark":{"type":"text","align":"left","fontSize":17,"fill":"#111"},"encoding":{"x":{"datum":-1.2},"y":{"datum":-1.1167},"text":{"field":"main"}}},
  {"data":{"name":"txt"},"transform":[{"filter":"datum.m==6"}],"mark":{"type":"text","align":"left","fontSize":15.2,"fill":"#111"},"encoding":{"x":{"datum":-1.2},"y":{"datum":-1.2444},"text":{"field":"sub"}}},
  {"data":{"name":"txt"},"transform":[{"filter":"datum.m==6"}],"mark":{"type":"text","align":"left","fontSize":6.5,"fill":"#333"},"encoding":{"x":{"datum":1.2944},"y":{"datum":-1.1556},"text":{"field":"calm"}}}
 ]}
]
}
